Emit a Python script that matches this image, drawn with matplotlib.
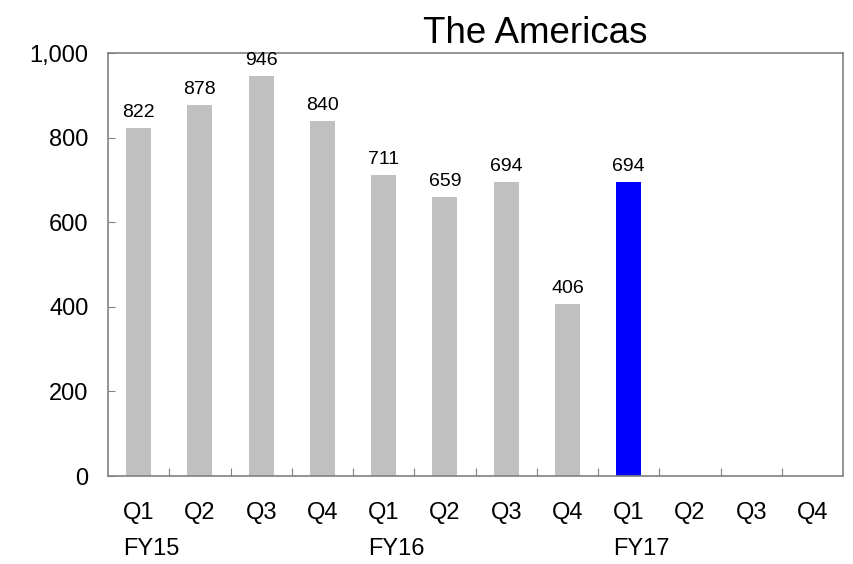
import matplotlib.pyplot as plt
from matplotlib.ticker import FuncFormatter
import matplotlib.transforms as mtransforms

plt.rcParams['font.family'] = ['Liberation Sans', 'DejaVu Sans']

quarters = ['Q1', 'Q2', 'Q3', 'Q4', 'Q1', 'Q2', 'Q3', 'Q4', 'Q1', 'Q2', 'Q3', 'Q4']
years = ['FY15', 'FY16', 'FY17']
values = [822, 878, 946, 840, 711, 659, 694, 406, 694]
colors = ['#c0c0c0'] * 8 + ['#0000ff']

fig = plt.figure(figsize=(8.54, 5.64), dpi=100, facecolor='white')
ax = fig.add_axes([0.1265, 0.156, 0.8607, 0.75])

x = list(range(len(values)))
bars = ax.bar(x, values, width=0.41, color=colors, zorder=2)
for xi, v in zip(x, values):
    ax.annotate(f'{v}', (xi, v), xytext=(0, 8), textcoords='offset points',
                ha='center', va='baseline', fontsize=14)

ax.set_xlim(-0.5, len(quarters) - 0.5)
ax.set_ylim(0, 1000)
ax.set_yticks([0, 200, 400, 600, 800, 1000])
ax.yaxis.set_major_formatter(FuncFormatter(lambda v, p: f'{int(v):,}'))

ax.set_xticks([i + 0.5 for i in range(len(quarters) - 1)])
ax.set_xticklabels([])
ax.tick_params(axis='x', direction='in', length=5.5, color='#808080')
ax.tick_params(axis='y', direction='in', length=5, color='#808080', labelsize=17, pad=14)

for s in ax.spines.values():
    s.set_color('#808080')
    s.set_linewidth(1.2)

trans = mtransforms.blended_transform_factory(ax.transData, ax.transAxes)
for i, q in enumerate(quarters):
    ax.text(i, -0.1017, q, transform=trans, ha='center', va='baseline', fontsize=17)
for j, fy in enumerate(years):
    ax.text(j * 4 - 0.25, -0.187, fy, transform=trans, ha='left', va='baseline', fontsize=17)

fig.text(0.627, 0.924, 'The Americas', ha='center', va='baseline', fontsize=26.5)

fig.savefig('out.png', dpi=100)
